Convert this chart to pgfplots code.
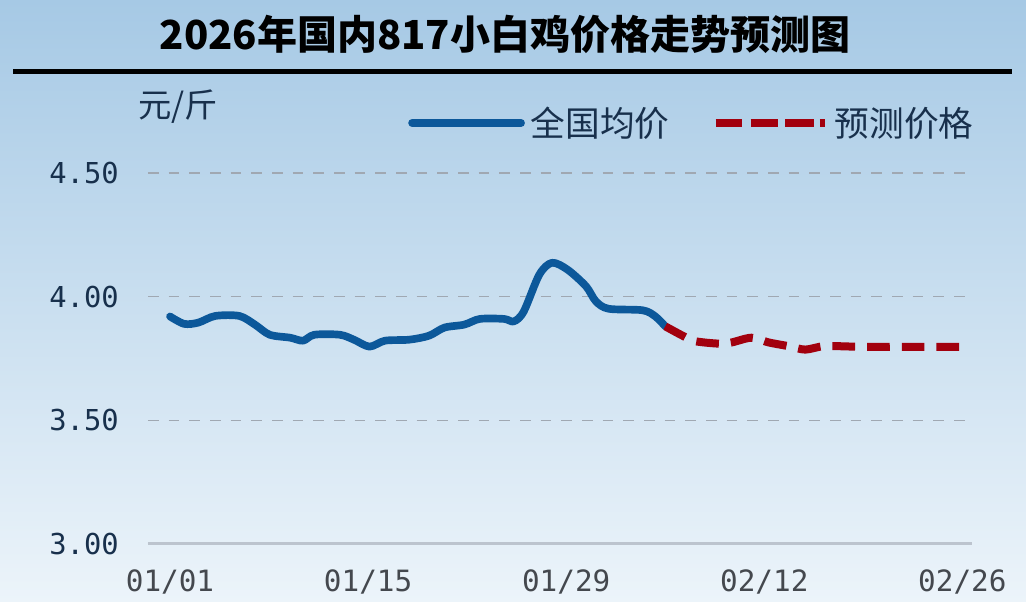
\documentclass[border=0pt]{standalone}
\usepackage{pgfplots}
\pgfplotsset{compat=1.18}
\usepackage{fontspec}
\newfontfamily\cjk{Noto Sans CJK SC}
\newfontfamily\tickfont{DejaVu Sans Mono}
\definecolor{bgtop}{RGB}{166,201,229}
\definecolor{bgbot}{RGB}{236,244,250}
\definecolor{navy}{RGB}{24,48,76}
\definecolor{tickgray}{RGB}{68,72,78}
\definecolor{gridgray}{RGB}{160,168,178}
\definecolor{axgray}{RGB}{188,196,206}
\definecolor{lineblue}{RGB}{12,88,154}
\definecolor{linered}{RGB}{162,0,14}
\begin{document}
\begin{tikzpicture}
\useasboundingbox (0,0) rectangle (769.5pt,451.5pt);
\shade[top color=bgtop, bottom color=bgbot] (0,0) rectangle (769.5pt,451.5pt);
\node[font=\cjk\bfseries\fontsize{30}{32}\selectfont, text=black] at (378.75pt,426pt) {2026年国内817小白鸡价格走势预测图};
\draw[line width=3.75pt] (9.75pt,397.5pt) -- (759pt,397.5pt);
\begin{axis}[
  at={(111pt,43.5pt)}, anchor=south west,
  scale only axis, width=618pt, height=278.25pt,
  xmin=-1.555, xmax=56.68, ymin=3, ymax=4.5,
  clip=false,
  axis x line*=bottom, axis y line*=left,
  y axis line style={draw=none},
  x axis line style={draw=axgray, line width=2.25pt},
  major tick length=0pt, tick style={draw=none},
  xtick={0,14,28,42,56}, xticklabels={01/01,01/15,01/29,02/12,02/26},
  ytick={3,3.5,4,4.5}, yticklabels={3.00,3.50,4.00,4.50},
  xticklabel style={font=\tickfont\fontsize{22}{24}\selectfont, text=tickgray, anchor=north, inner sep=0pt, yshift=-18.75pt},
  yticklabel style={font=\tickfont\fontsize{21.6}{24}\selectfont, text=navy, anchor=east, inner sep=0pt, xshift=-21.75pt},
  ymajorgrids, major grid style={draw=gridgray, line width=1.1pt, dash pattern=on 8pt off 7.5pt},
  ylabel={元/斤},
  every axis y label/.style={at={(axis description cs:-0.012,1.178)}, anchor=west, font=\cjk\fontsize{25}{27}\selectfont, text=navy, inner sep=0pt},
  legend columns=2,
  legend style={at={(axis description cs:0.3155,1.1348)}, anchor=west, draw=none, fill=none, inner sep=0pt, font=\cjk\fontsize{26}{28}\selectfont, text=navy, nodes={inner sep=0pt}, /tikz/every odd column/.append style={column sep=4.5pt}, /tikz/every even column/.append style={column sep=31.5pt}},
]
\addplot[lineblue, line width=5.75pt, smooth, line join=round, line cap=round,
  legend image code/.code={\draw[lineblue, line width=5.25pt, line cap=round] (1.9pt,0pt) -- (79.9pt,0pt); \path (0pt,0pt) -- (81.75pt,0pt);}]
  coordinates {
  (0,3.92) (1,3.89) (2,3.895) (3.2,3.922) (4.9,3.922) (6.0,3.887) (7.05,3.846)
  (8.5,3.834) (9.4,3.822) (10.2,3.846) (12,3.846) (13,3.826) (14.1,3.798)
  (15.2,3.822) (16.9,3.826) (18.3,3.842) (19.4,3.875) (20.8,3.887) (21.9,3.91)
  (23.6,3.91) (24.3,3.90) (25.0,3.94) (26.1,4.089) (27.0,4.137) (28.1,4.109)
  (29.4,4.042) (30.1,3.981) (31.0,3.951) (33.4,3.945) (34.3,3.92) (35.0,3.88)
  };
\addlegendentry{全国均价}
\addplot[linered, line width=6pt, smooth, line join=round, dash pattern=on 17pt off 9pt,
  legend image code/.code={\draw[linered, line width=6.5pt, dash pattern=on 19.5pt off 7.5pt] (0pt,0pt) -- (74.5pt,0pt); \path (0pt,0pt) -- (81.75pt,0pt);}]
  coordinates {
  (35.0,3.88) (36.3,3.84) (37.1,3.82) (38.8,3.81) (39.7,3.815) (41.1,3.834)
  (42.3,3.815) (43.7,3.80) (44.9,3.786) (46.3,3.80) (49,3.797) (52,3.797) (56,3.797)
  };
\addlegendentry{预测价格}
\end{axis}
\end{tikzpicture}
\end{document}
